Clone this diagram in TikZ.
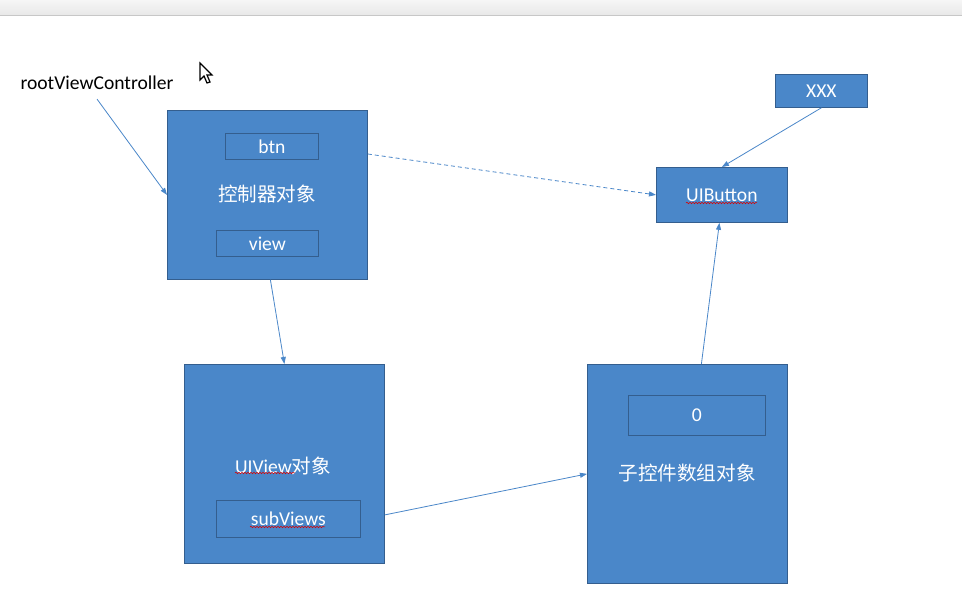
\documentclass[tikz,border=0pt]{standalone}
\usepackage{fontspec}
\setmainfont{Carlito}
\newfontfamily\cjk{Noto Sans CJK SC}
\usetikzlibrary{arrows.meta,decorations.pathmorphing}
\definecolor{boxfill}{RGB}{74,135,201}
\definecolor{boxline}{RGB}{52,94,142}
\definecolor{arrowc}{RGB}{74,135,201}
\definecolor{barTop}{RGB}{246,246,246}
\definecolor{barBot}{RGB}{232,232,232}
\begin{document}
\begin{tikzpicture}[x=1pt,y=-1pt,
  obj/.style={draw=boxline, fill=boxfill, line width=0.8pt, inner sep=0pt, anchor=north west},
  field/.style={draw=boxline, line width=0.8pt, inner sep=0pt, anchor=north west},
  lab/.style={text=white, inner sep=0pt, font=\fontsize{19.6}{19.6}\selectfont},
  cjklab/.style={text=white, inner sep=0pt, font=\fontsize{19.6}{19.6}\selectfont\cjk},
  link/.style={draw=arrowc, line width=0.8pt, -{Triangle[length=7pt,width=5pt]}},
  squig/.style={draw=red!85!black, line width=0.5pt, decorate, decoration={snake, amplitude=0.8pt, segment length=3pt}}]
\useasboundingbox (0,0) rectangle (962,609);
\fill[white] (0,0) rectangle (962,609);
\shade[top color=barTop, bottom color=barBot] (0,0) rectangle (962,15);
\draw[black!22, line width=1pt] (0,15.5) -- (962,15.5);

% cursor
\draw[black, fill=white, line width=1.2pt, line join=miter] (200,63) -- (200,80) -- (204,76) -- (207,83) -- (210,82) -- (207,75) -- (212,75) -- cycle;

% boxes
\node[obj, minimum width=200pt, minimum height=169pt] (ctrl) at (167,110) {};
\node[field, minimum width=93pt, minimum height=26pt] (btn) at (225,133) {};
\node[field, minimum width=102pt, minimum height=26pt] (view) at (216,230) {};
\node[lab] (btnl) at (btn.center) {btn};
\node[lab] (viewl) at (view.center) {view};
\node[cjklab] (ctrll) at (267,194) {控制器对象};

\node[obj, minimum width=200pt, minimum height=199pt] (uiv) at (184,364) {};
\node[field, minimum width=144pt, minimum height=37pt] (subv) at (216,500) {};
\node[lab] (uivl) at (283,466) {UIView{\cjk\fontsize{19.6}{19.6}\selectfont 对象}};
\node[lab] (subvl) at (subv.center) {subViews};

\node[obj, minimum width=200pt, minimum height=219pt] (arr) at (587,364) {};
\node[field, minimum width=137pt, minimum height=40pt] (zero) at (628,395) {};
\node[lab] (zerol) at (zero.center) {0};
\node[cjklab] (arrl) at (687,473) {子控件数组对象};

\node[obj, minimum width=131pt, minimum height=55pt] (uib) at (656,167) {};
\node[lab] (uibl) at (uib.center) {UIButton};

\node[obj, minimum width=92pt, minimum height=33pt] (xxx) at (775,74) {};
\node[lab] (xxxl) at (xxx.center) {XXX};

\node[inner sep=0pt, font=\fontsize{19.6}{19.6}\selectfont] (root) at (97,83) {rootViewController};

% spell-check squiggles
\draw[squig] (686,203) -- (757,203);
\draw[squig] (235,473) -- (295,473);
\draw[squig] (250,527) -- (325,527);

% connectors
\draw[link] ([yshift=-9pt]root.south) -- (ctrl.west);
\draw[link, dash pattern=on 4pt off 3pt] ([yshift=-44pt]ctrl.north east) -- (uib.west);
\draw[link] ([xshift=3pt]ctrl.south) -- (uiv.north);
\draw[link] ([yshift=-51pt]uiv.east) -- (arr.west);
\draw[link] ([xshift=14pt]arr.north) -- ([xshift=-2.5pt]uib.south);
\draw[link] (xxx.south) -- (uib.north);
\end{tikzpicture}
\end{document}
